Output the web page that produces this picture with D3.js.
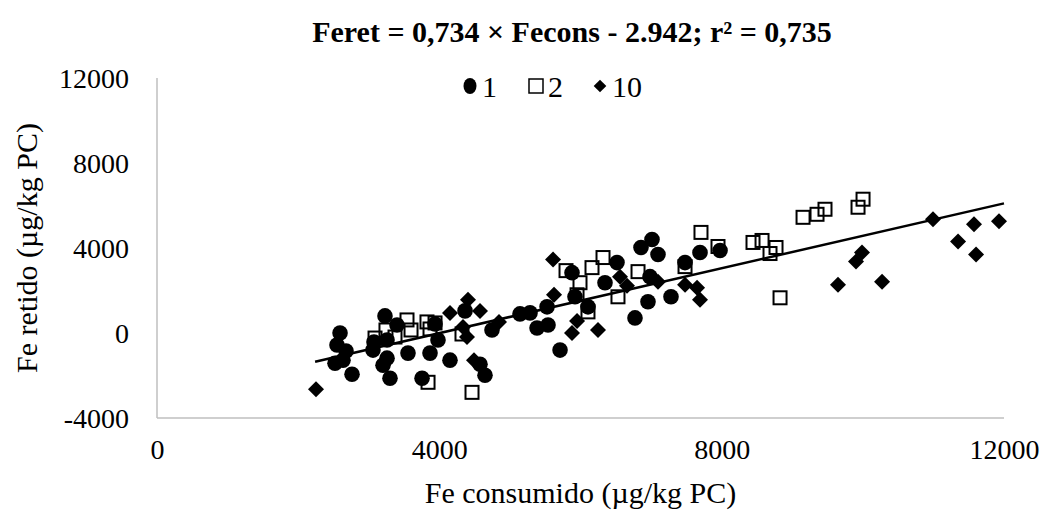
<!DOCTYPE html>
<html><head><meta charset="utf-8">
<script src="https://cdn.jsdelivr.net/npm/d3@7"></script>
<style>body{margin:0;background:#fff}svg{display:block}text{font-family:'Liberation Serif','Times New Roman',serif}</style>
</head><body>
<svg id="chart" width="1048" height="516"></svg>
<script>
// Data (Fe consumido, Fe retido), µg/kg PC
const series1X = [2593,2550,2678,2522,2635,2763,3230,3400,3259,3074,3060,3259,3202,3301,3556,3868,3755,3939,3981,4151,4364,4576,4647,4746,5143,5285,5384,5540,5526,5710,5880,5922,6106,6347,6517,6772,6857,7013,7098,6985,6956,7282,7481,7693,7977];
const series1Y = [0,-568,-852,-1420,-1278,-1941,805,379,-331,-426,-805,-1184,-1515,-2130,-947,-947,-2130,426,-331,-1278,1041,-1468,-1988,142,899,947,237,379,1231,-805,2840,1704,1231,2367,3314,710,4024,4403,3693,2651,1468,1704,3314,3787,3882];
const series2X = [3089,3244,3372,3542,3599,3825,3939,3868,3840,4321,4463,5795,5993,5951,6163,6319,6106,6531,6815,7481,7707,7948,8444,8572,8685,8770,8827,9153,9351,9464,9932,10003];
const series2Y = [-237,142,-189,615,142,521,473,189,-2320,-47,-2793,2935,2367,1799,3077,3551,994,1704,2888,3124,4734,4071,4261,4355,3740,4024,1657,5444,5586,5823,5918,6296];
const series3X = [2253,4151,4406,4576,4335,4392,4491,4845,5611,5625,5951,5880,6248,6560,6659,7098,7481,7651,7693,9648,9903,9988,10272,10994,11349,11575,11604,11929];
const series3Y = [-2651,947,1562,1041,284,-189,-1278,521,3456,1799,568,0,142,2651,2225,2414,2272,2130,1562,2272,3361,3787,2414,5349,4308,5113,3693,5255];
const seriesNames = ["1","2","10"];
const trendX = [2240, 12000];
const trendY = [-1350, 6100];
const xTicks = [0,4000,8000,12000];
const yTicks = [-4000,0,4000,8000,12000];
const titleText = "Feret = 0,734 × Fecons - 2.942; r² = 0,735";
const xTitle = "Fe consumido (µg/kg PC)";
const yTitle = "Fe retido (µg/kg PC)";

const svg = d3.select("#chart");
const font = "'Liberation Serif','Times New Roman',serif";
const L = 157, R = 1004, T = 78, B = 418;
const x = d3.scaleLinear().domain([0,12000]).range([L,R]);
const y = d3.scaleLinear().domain([-4000,12000]).range([B,T]);
const fmt = d => String(d);

// axes lines
svg.append("line").attr("x1",L).attr("x2",L).attr("y1",T).attr("y2",B).attr("stroke","#bfbfbf").attr("stroke-width",1.5);
svg.append("line").attr("x1",L).attr("x2",R).attr("y1",B).attr("y2",B).attr("stroke","#bfbfbf").attr("stroke-width",1.5);

// tick labels via axis generators
const xAxis = svg.append("g").attr("transform",`translate(0,${B})`)
  .call(d3.axisBottom(x).tickValues(xTicks).tickSize(0).tickPadding(21).tickFormat(fmt));
xAxis.select(".domain").remove();
xAxis.attr("font-family",font).attr("font-size",28);
xAxis.selectAll("text").attr("fill","#000").style("font-family",font);
const yAxis = svg.append("g").attr("transform",`translate(${L},0)`)
  .call(d3.axisLeft(y).tickValues(yTicks).tickSize(0).tickPadding(28).tickFormat(fmt));
yAxis.select(".domain").remove();
yAxis.attr("font-family",font).attr("font-size",28);
yAxis.selectAll("text").attr("fill","#000").attr("dy","0.35em").style("font-family",font);

// axis titles
svg.append("text").attr("x",(L+R)/2).attr("y",503).attr("text-anchor","middle")
  .attr("font-family",font).attr("font-size",30).text(xTitle);
svg.append("text").attr("transform",`translate(37,${(T+B)/2}) rotate(-90)`).attr("text-anchor","middle")
  .attr("font-family",font).attr("font-size",30).text(yTitle);
// title
svg.append("text").attr("x",572).attr("y",42).attr("text-anchor","middle")
  .attr("font-family",font).attr("font-size",30).attr("font-weight","bold").text(titleText);

// points
const g = svg.append("g");
const s1 = d3.zip(series1X, series1Y), s2 = d3.zip(series2X, series2Y), s3 = d3.zip(series3X, series3Y);
g.selectAll("circle.s1").data(s1).join("circle").attr("class","s1")
  .attr("cx",d=>x(d[0])).attr("cy",d=>y(d[1])).attr("r",7.8).attr("fill","#000");
g.selectAll("rect.s2").data(s2).join("rect").attr("class","s2")
  .attr("x",d=>x(d[0])-6.5).attr("y",d=>y(d[1])-6.5).attr("width",13).attr("height",13)
  .attr("fill","none").attr("stroke","#000").attr("stroke-width",2);
const diamond = d3.symbol().type(d3.symbolSquare).size(128);
g.selectAll("path.s3").data(s3).join("path").attr("class","s3")
  .attr("d",diamond()).attr("transform",d=>`translate(${x(d[0])},${y(d[1])}) rotate(45)`).attr("fill","#000");

// trendline
svg.append("line").attr("x1",x(trendX[0])).attr("y1",y(trendY[0])).attr("x2",x(trendX[1])).attr("y2",y(trendY[1]))
  .attr("stroke","#000").attr("stroke-width",2.5);

// legend
const lg = svg.append("g").attr("transform","translate(0,86)");
const lx = [470, 536, 600];
lg.append("ellipse").attr("cx",lx[0]).attr("cy",0).attr("rx",6.5).attr("ry",8).attr("fill","#000");
lg.append("rect").attr("x",lx[1]-7).attr("y",-7).attr("width",14).attr("height",14).attr("fill","none").attr("stroke","#000").attr("stroke-width",1.5);
lg.append("path").attr("d",d3.symbol().type(d3.symbolSquare).size(80)()).attr("transform",`translate(${lx[2]},0) rotate(45)`).attr("fill","#000");
seriesNames.forEach((n,i)=>{
  lg.append("text").attr("x",lx[i]+12).attr("y",0).attr("dy","0.35em").attr("font-family",font).attr("font-size",30).text(n);
});
</script>
</body></html>
